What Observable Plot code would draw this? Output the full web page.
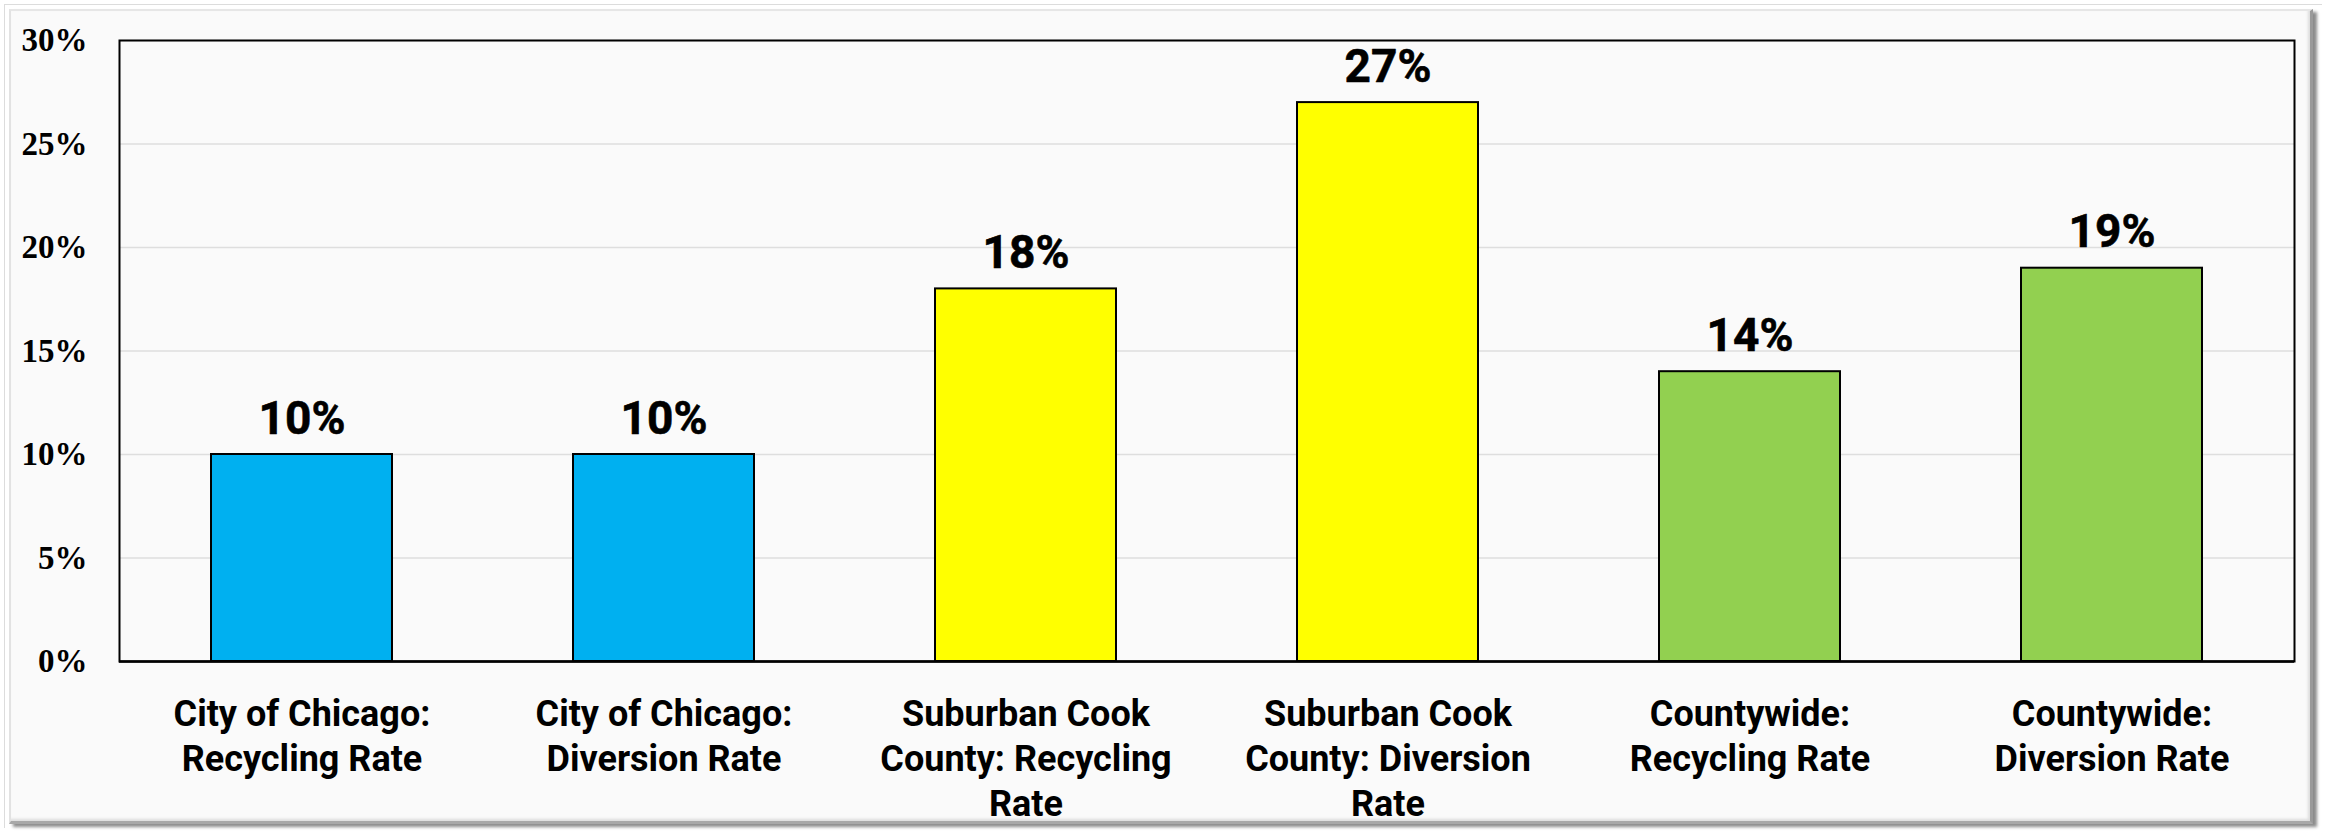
<!DOCTYPE html>
<html>
<head>
<meta charset="utf-8">
<script src="https://cdn.jsdelivr.net/npm/d3@7"></script>
<script src="https://cdn.jsdelivr.net/npm/@observablehq/plot@0.6"></script>
<style>
  html, body { margin: 0; padding: 0; background: #ffffff; }
  #wrap { position: relative; width: 2328px; height: 831px; overflow: hidden; background: #ffffff; }
  #outer { position: absolute; left: 4px; top: 4px; width: 2318px; height: 824px; border-left: 1px solid #dcdcdc; border-top: 1px solid #dcdcdc; box-sizing: border-box; }
  #panel { position: absolute; left: 9px; top: 9px; width: 2304px; height: 815px; background: #fafafa;
           border-left: 2px solid #e2e2e2; border-top: 2px solid #e6e6e6;
           border-right: 3px solid #9a9a9a; border-bottom: 3px solid #a8a8a8;
           box-shadow: 4px 3px 3px rgba(0,0,0,0.45), inset -2px -2px 3px rgba(0,0,0,0.12); box-sizing: border-box; }
  #chart { position: absolute; left: 0; top: 0; }
</style>
</head>
<body>
<div id="wrap">
  <div id="outer"></div>
  <div id="panel"></div>
  <div id="chart"></div>
</div>
<script>
const categories = [
  "City of Chicago: Recycling Rate",
  "City of Chicago: Diversion Rate",
  "Suburban Cook County: Recycling Rate",
  "Suburban Cook County: Diversion Rate",
  "Countywide: Recycling Rate",
  "Countywide: Diversion Rate"
];
const tickLabels = [
  "City of Chicago:\nRecycling Rate",
  "City of Chicago:\nDiversion Rate",
  "Suburban Cook\nCounty: Recycling\nRate",
  "Suburban Cook\nCounty: Diversion\nRate",
  "Countywide:\nRecycling Rate",
  "Countywide:\nDiversion Rate"
];
const values = [10, 10, 18, 27, 14, 19];
const groups = ["Chicago", "Chicago", "Suburban", "Suburban", "Countywide", "Countywide"];
const groupNames = ["Chicago", "Suburban", "Countywide"];
const groupColors = ["#00B0F0", "#FFFF00", "#92D050"];
const yTicks = [0, 5, 10, 15, 20, 25, 30];

const data = categories.map((c, i) => ({category: c, value: values[i], group: groups[i], label: tickLabels[i]}));
const labelOf = new Map(categories.map((c, i) => [c, tickLabels[i]]));

const chart = Plot.plot({
  width: 2328,
  height: 831,
  marginLeft: 119,
  marginRight: 34,
  marginTop: 40,
  marginBottom: 170,
  style: {background: "transparent", overflow: "visible"},
  x: {domain: categories, paddingInner: 0.5, paddingOuter: 0.25, label: null},
  y: {domain: [0, 30], label: null},
  color: {domain: groupNames, range: groupColors},
  marks: [
    Plot.gridY(yTicks, {stroke: "#dedede", strokeOpacity: 1, strokeWidth: 1.5}),
    Plot.barY(data, {x: "category", y: "value", fill: "group", stroke: "black", strokeWidth: 2}),
    Plot.text(data, {x: "category", y: "value", text: d => d.value + "%", lineAnchor: "bottom", dy: -21,
      fontSize: 46, fontWeight: "bold", fontFamily: "Roboto", fill: "black", stroke: "black", strokeWidth: 0.6}),
    Plot.frame({stroke: "black", strokeWidth: 2}),
    Plot.ruleY([0], {stroke: "black", strokeWidth: 2.5}),
    Plot.axisY({ticks: yTicks, tickFormat: d => d + "%", tickSize: 0, tickPadding: 32,
      fontSize: 33, fontWeight: "bold", fontFamily: "Liberation Serif", fill: "black", label: null}),
    Plot.axisX({tickSize: 0, tickPadding: 33, tickFormat: d => labelOf.get(d),
      fontSize: 36, fontWeight: "bold", fontFamily: "Roboto", lineHeight: 1.25, fill: "black", label: null})
  ]
});
document.getElementById("chart").appendChild(chart);
</script>
</body>
</html>
